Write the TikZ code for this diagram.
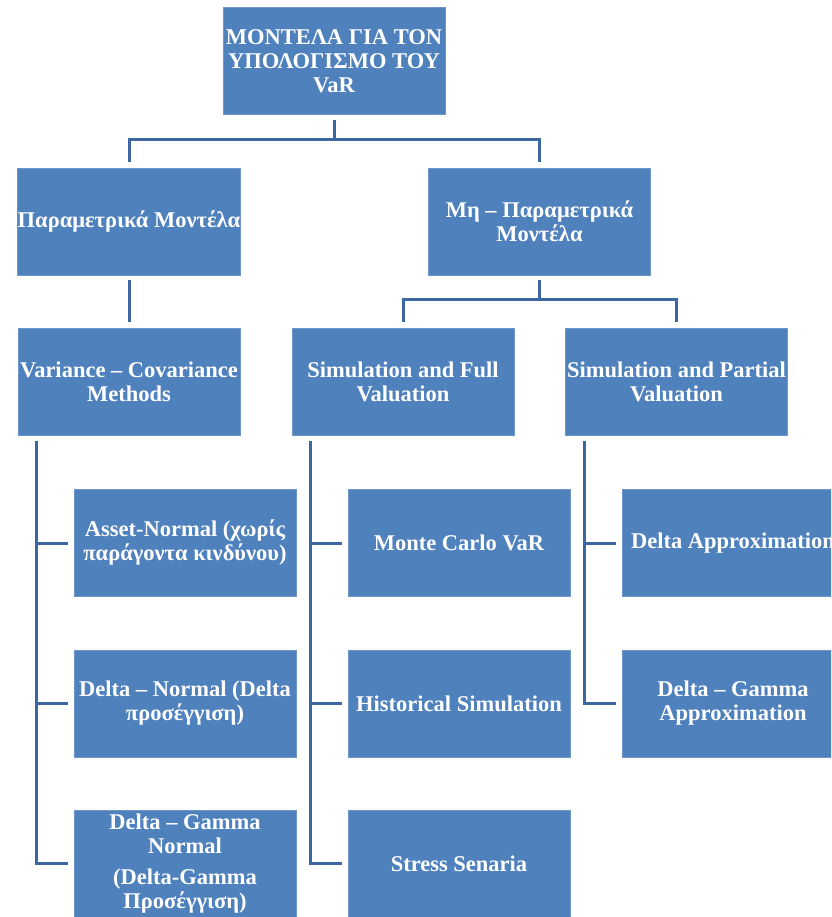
\documentclass[tikz,border=0pt]{standalone}
\usepackage{fontspec}
\setmainfont{Liberation Serif}
\usetikzlibrary{positioning}
\definecolor{boxFill}{RGB}{79,129,189}
\definecolor{boxDraw}{RGB}{110,150,200}
\definecolor{linkBlue}{RGB}{60,103,160}

\begin{document}
\begin{tikzpicture}[
  x=1pt, y=-1pt,
  model/.style={rectangle, fill=boxFill, draw=boxDraw, line width=0.8pt,
    minimum width=222pt, minimum height=107pt, inner sep=0pt,
    text=white, align=center,
    font=\fontsize{22.5}{24}\selectfont\bfseries},
  link/.style={draw=linkBlue, line width=3pt, shorten <=5pt, shorten >=6pt}
]
\useasboundingbox (0,0) rectangle (831,917);
\clip (0,0) rectangle (831,917);

% Root of the tree.
\node[model] (root) at (334,61) {ΜΟΝΤΕΛΑ ΓΙΑ ΤΟΝ\\ΥΠΟΛΟΓΙΣΜΟ ΤΟΥ\\VaR};

% Parametric and non-parametric families.
\node[model] (param) at (129,221.5) {Παραμετρικά Μοντέλα};
\node[model] (nonparam) at (539.5,221.5) {Μη – Παραμετρικά\\Μοντέλα};

% Method groups.
\node[model] (varcov) at (129,382) {Variance – Covariance\\Methods};
\node[model] (simfull) at (403,382) {Simulation and Full\\Valuation};
\node[model] (simpart) at (676.5,382) {Simulation and Partial\\Valuation};

% Individual methods.
\node[model] (asset) at (185,543) {Asset-Normal (χωρίς\\παράγοντα κινδύνου)};
\node[model] (deltanorm) at (185,703.5) {Delta – Normal (Delta\\προσέγγιση)};
\node[model] (gammanorm) at (185,863.5) {Delta – Gamma\\Normal\\[7pt](Delta-Gamma\\Προσέγγιση)};
\node[model] (montecarlo) at (459,543) {Monte Carlo VaR};
\node[model] (histsim) at (459,703.5) {Historical Simulation};
\node[model] (stress) at (459,863.5) {Stress Senaria};
\node[model] (deltaapprox) at (733,543) {Delta Approximation};
\node[model] (gammaapprox) at (733,703.5) {Delta – Gamma\\Approximation};

% Tree connectors.
\draw[link] (root.south) -- ++(0,25) -| (param.north);
\draw[link] (root.south) -- ++(0,25) -| (nonparam.north);
\draw[link] (param.south) -- (varcov.north);
\draw[link] (nonparam.south) -- ++(0,24) -| (simfull.north);
\draw[link] (nonparam.south) -- ++(0,24) -| (simpart.north);

% Side trunks to the methods.
\foreach \grp/\item in {varcov/asset, varcov/deltanorm, varcov/gammanorm,
    simfull/montecarlo, simfull/histsim, simfull/stress,
    simpart/deltaapprox, simpart/gammaapprox}
  \draw[link] ([xshift=19pt]\grp.south west) |- (\item.west);

\end{tikzpicture}
\end{document}
